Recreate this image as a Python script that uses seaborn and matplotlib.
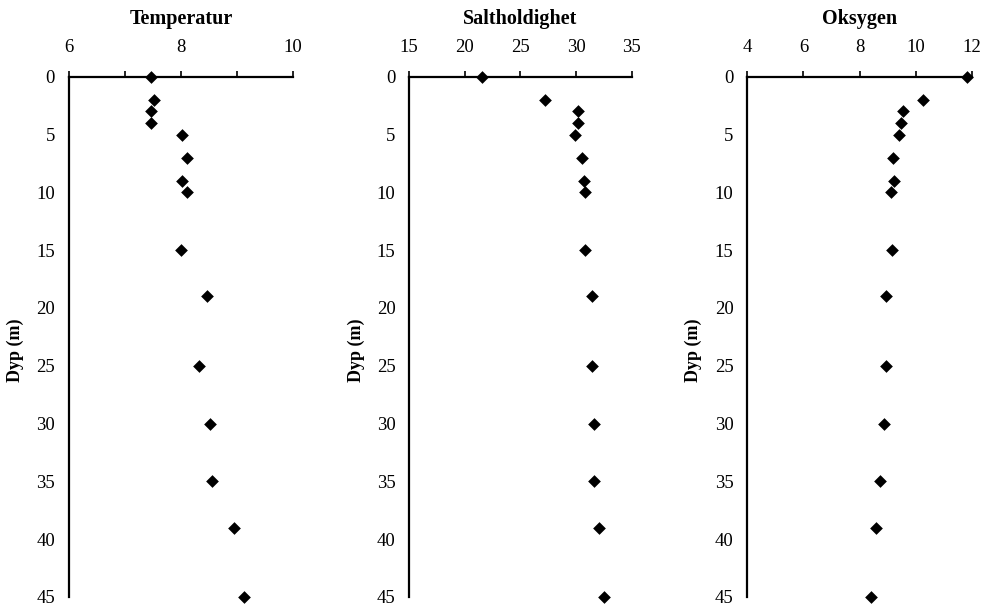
import numpy as np
import pandas as pd
import matplotlib
matplotlib.use("Agg")
import matplotlib.pyplot as plt
import seaborn as sns

# Dybde (m) og målinger lest av figuren
dyp = [0, 2, 3, 4, 5, 7, 9, 10, 15, 19, 25, 30, 35, 39, 45]
temperatur = [7.47, 7.52, 7.46, 7.46, 8.01, 8.11, 8.01, 8.11, 8.0, 8.47, 8.33, 8.52, 8.56, 8.95, 9.13]
saltholdighet = [21.5, 27.2, 30.2, 30.15, 29.95, 30.55, 30.7, 30.85, 30.85, 31.4, 31.4, 31.63, 31.63, 32.1, 32.5]
oksygen = [11.83, 10.25, 9.54, 9.48, 9.41, 9.21, 9.24, 9.12, 9.15, 8.94, 8.93, 8.88, 8.72, 8.6, 8.4]

titler = ["Temperatur", "Saltholdighet", "Oksygen"]
xgrenser = [(6, 10), (15, 35), (4, 12)]
xticks = [[6, 8, 10], [15, 20, 25, 30, 35], [4, 6, 8, 10, 12]]
xminor = [[7, 9], [], []]
yticks = [0, 5, 10, 15, 20, 25, 30, 35, 40, 45]

df = pd.DataFrame({
    "Dyp": dyp,
    "Temperatur": temperatur,
    "Saltholdighet": saltholdighet,
    "Oksygen": oksygen,
})

sns.set_style("white")
plt.rcParams['font.family'] = ['Liberation Serif', 'DejaVu Serif']
plt.rcParams['text.color'] = 'black'

fig = plt.figure(figsize=(9.81, 6.07), dpi=100)
venstre = [0.0703, 0.4172, 0.7618]
bredde = [0.2283, 0.2266, 0.2287]

for i, tittel in enumerate(titler):
    ax = fig.add_axes([venstre[i], 0.0165, bredde[i], 0.857])
    sns.scatterplot(data=df, x=tittel, y="Dyp", ax=ax, marker="D", color="black",
                    s=42, linewidth=0, clip_on=False, zorder=5)
    ax.set_xlim(*xgrenser[i])
    ax.set_ylim(45, 0)
    ax.set_xticks(xticks[i])
    ax.set_xticks(xminor[i], minor=True)
    ax.set_yticks(yticks)
    ax.xaxis.tick_top()
    ax.tick_params(axis="x", which="both", direction="out", length=4, width=1.2,
                   pad=11, labelsize=13.5, colors="black")
    ax.tick_params(axis="y", direction="out", length=4, width=1.2, pad=6,
                   labelsize=13.5, colors="black")
    for side in ["right", "bottom"]:
        ax.spines[side].set_visible(False)
    for side in ["left", "top"]:
        ax.spines[side].set_linewidth(1.6)
        ax.spines[side].set_color("black")
    ax.set_xlabel("")
    ax.set_ylabel("Dyp (m)", fontsize=13, fontweight="bold", color="black")
    ax.yaxis.set_label_coords(-0.2, 0.475)
    ax.text(0.5, 1.112, tittel, transform=ax.transAxes, ha="center", va="center",
            fontsize=14.5, fontweight="bold", color="black")

fig.savefig("out.png", dpi=100)
